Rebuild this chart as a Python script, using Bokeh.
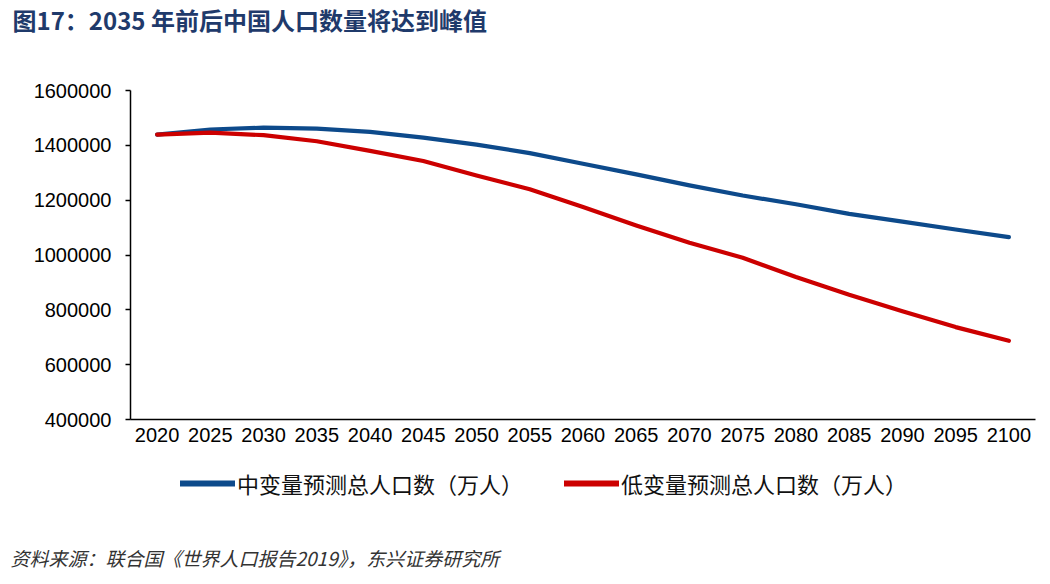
from bokeh.plotting import figure
from bokeh.layouts import column
from bokeh.models import Label, FixedTicker, BasicTickFormatter, Range1d, Legend, LegendItem
from bokeh.embed import file_html
from bokeh.resources import INLINE

years = [2020, 2025, 2030, 2035, 2040, 2045, 2050, 2055, 2060, 2065, 2070, 2075, 2080, 2085, 2090, 2095, 2100]
medium = [1439324, 1457827, 1464340, 1461192, 1449037, 1428390, 1402405, 1371672, 1332850, 1294030,
          1254000, 1217000, 1185000, 1150000, 1122000, 1093000, 1064993]
low = [1439324, 1446000, 1437000, 1415000, 1380000, 1343000, 1290000, 1240000, 1175000, 1108000,
       1045000, 990000, 920000, 855000, 795000, 737000, 687000]
series_names = ["中变量预测总人口数（万人）", "低变量预测总人口数（万人）"]
y_ticks = [400000, 600000, 800000, 1000000, 1200000, 1400000, 1600000]
title_text = "图17：2035 年前后中国人口数量将达到峰值"
source_text = "资料来源：联合国《世界人口报告2019》，东兴证券研究所"

W = 1045
MH = 460            # main chart height (page y 0..460)
FL, FT, FR, FB = 130, 90, 1035, 419
X0, X1 = 2017.5, 2102.5
Y0, Y1 = 400000, 1600000
blue = "#0D4A8B"
red = "#CC0000"
CJK = "Noto Sans CJK SC"

def dx(px):
    return X0 + (px - FL) * (X1 - X0) / (FR - FL)

def dy(py):
    return Y1 - (py - FT) * (Y1 - Y0) / (FB - FT)

p = figure(width=W, height=MH, output_backend="svg", toolbar_location=None,
           x_range=Range1d(X0, X1), y_range=Range1d(Y0, Y1),
           min_border_left=FL, min_border_right=W - FR, min_border_top=FT,
           min_border_bottom=MH - FB)
p.grid.visible = False
p.outline_line_color = None

r1 = p.line(years, medium, line_color=blue, line_width=4.2, line_cap="round", line_join="round")
r2 = p.line(years, low, line_color=red, line_width=4.2, line_cap="round", line_join="round")

for ax in (p.xaxis[0], p.yaxis[0]):
    ax.axis_line_color = "black"
    ax.axis_line_width = 1.5
    ax.major_label_text_font = "Liberation Sans"
    ax.major_label_text_font_size = "20px"
    ax.major_label_text_color = "black"
    ax.minor_tick_line_color = None

p.xaxis.ticker = FixedTicker(ticks=years)
p.xaxis.major_tick_line_color = None
p.xaxis.major_tick_in = 0
p.xaxis.major_tick_out = 0
p.xaxis.major_label_standoff = 8

p.yaxis.ticker = FixedTicker(ticks=y_ticks)
p.yaxis.formatter = BasicTickFormatter(use_scientific=False)
p.yaxis.major_tick_in = 0
p.yaxis.major_tick_out = 5
p.yaxis.major_tick_line_color = "black"
p.yaxis.major_tick_line_width = 1.5
p.yaxis.major_label_standoff = 14

# title in the top side panel (not clipped to the frame)
p.add_layout(Label(x=dx(12), y=dy(19), text=title_text, text_font=CJK,
                   text_font_style="bold", text_font_size="24px", text_color="#1F3A6B",
                   text_baseline="middle", text_align="left"), "above")

# --- legend + source strip (page y 460..580)
BH, BB = 120, 40
bot = figure(width=W, height=BH, output_backend="svg", toolbar_location=None,
             x_axis_location=None, y_axis_location=None,
             x_range=Range1d(X0, X1), y_range=Range1d(BH - BB, 0),
             min_border_left=FL, min_border_right=W - FR, min_border_top=0,
             min_border_bottom=BB)
bot.grid.visible = False
bot.outline_line_color = None
k1 = bot.line(years, medium, line_color=blue, line_width=6, line_cap="round", visible=False)
k2 = bot.line(years, low, line_color=red, line_width=6, line_cap="round", visible=False)
legend = Legend(items=[LegendItem(label=series_names[0], renderers=[k1]),
                       LegendItem(label=series_names[1], renderers=[k2])],
                orientation="horizontal", location=(50, (BH - BB) - 39),
                glyph_width=55, glyph_height=20, label_height=20, label_standoff=2,
                spacing=41, padding=0, margin=0, border_line_color=None,
                background_fill_alpha=0,
                label_text_font=CJK, label_text_font_size="22px",
                label_text_color="#111111")
bot.add_layout(legend, "center")
bot.add_layout(Label(x=dx(10), y=557 - MH, text=source_text, text_font=CJK,
                     text_font_style="italic", text_font_size="19px", text_color="#333333",
                     text_baseline="middle", text_align="left"), "below")

layout = column(p, bot, spacing=0)
open("out.html", "w").write(file_html(layout, INLINE))
